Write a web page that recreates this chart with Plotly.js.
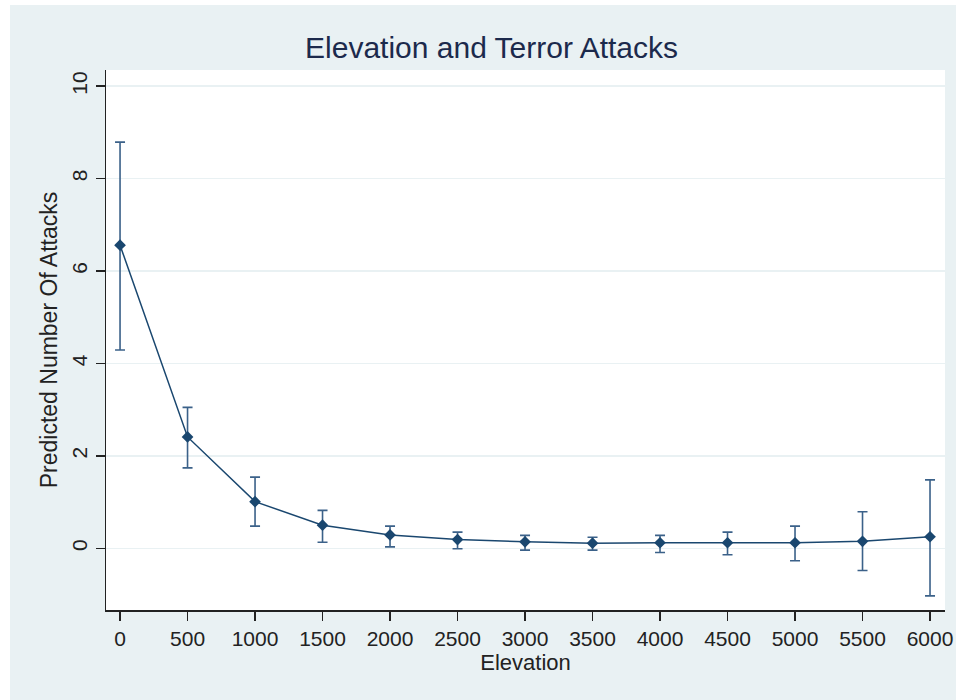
<!DOCTYPE html>
<html>
<head>
<meta charset="utf-8">
<script src="https://cdn.plot.ly/plotly-3.0.1.min.js"></script>
<style>
  html, body { margin: 0; padding: 0; background: #ffffff; }
  #chart { position: absolute; left: 10px; top: 5px; width: 946px; height: 695px; }
</style>
</head>
<body>
<div id="chart"></div>
<script>
// Elevation values (x)
const elevation = [0, 500, 1000, 1500, 2000, 2500, 3000, 3500, 4000, 4500, 5000, 5500, 6000];
// Predicted number of attacks (point estimates)
const predicted = [6.56, 2.41, 1.01, 0.50, 0.29, 0.19, 0.14, 0.11, 0.12, 0.12, 0.12, 0.15, 0.25];
// Upper and lower confidence limits
const upperCI = [8.79, 3.05, 1.54, 0.82, 0.48, 0.35, 0.28, 0.24, 0.28, 0.35, 0.48, 0.79, 1.48];
const lowerCI = [4.29, 1.74, 0.48, 0.13, 0.03, -0.01, -0.04, -0.04, -0.09, -0.14, -0.27, -0.48, -1.03];

const xTicks = [0, 500, 1000, 1500, 2000, 2500, 3000, 3500, 4000, 4500, 5000, 5500, 6000];
const yTicks = [0, 2, 4, 6, 8, 10];

const errPlus = upperCI.map((u, i) => u - predicted[i]);
const errMinus = lowerCI.map((l, i) => predicted[i] - l);

const font = "Arial, 'Liberation Sans', sans-serif";

const trace = {
  x: elevation,
  y: predicted,
  type: 'scatter',
  mode: 'lines+markers',
  line: { color: '#1a476f', width: 1.5 },
  marker: { symbol: 'diamond', size: 9, color: '#1a476f' },
  error_y: {
    type: 'data',
    symmetric: false,
    array: errPlus,
    arrayminus: errMinus,
    color: '#3b6189',
    thickness: 1.6,
    width: 5
  },
  hoverinfo: 'x+y'
};

const layout = {
  width: 946,
  height: 695,
  paper_bgcolor: '#e9f1f3',
  plot_bgcolor: '#ffffff',
  margin: { l: 96, r: 11, t: 65, b: 90 },
  showlegend: false,
  title: {
    text: 'Elevation and Terror Attacks',
    x: 0.509, xanchor: 'center',
    y: 0.939, yanchor: 'middle',
    font: { family: font, size: 30, color: '#1c2a4c' }
  },
  xaxis: {
    range: [-104, 6111],
    tickvals: xTicks,
    ticktext: xTicks.map(String),
    showgrid: false,
    zeroline: false,
    showline: true,
    linecolor: '#222222',
    linewidth: 1.5,
    ticks: 'outside',
    ticklen: 9,
    tickwidth: 1.5,
    tickcolor: '#222222',
    tickfont: { family: font, size: 21, color: '#222222' },
    title: { text: 'Elevation', font: { family: font, size: 22, color: '#222222' }, standoff: 4 }
  },
  yaxis: {
    range: [-1.335, 10.35],
    tickvals: yTicks,
    ticktext: yTicks.map(String),
    tickangle: -90,
    showgrid: true,
    gridcolor: '#e9f1f3',
    gridwidth: 1.5,
    zeroline: false,
    showline: true,
    linecolor: '#222222',
    linewidth: 1.5,
    ticks: 'outside',
    ticklen: 9,
    tickwidth: 1.5,
    tickcolor: '#222222',
    tickfont: { family: font, size: 21, color: '#222222' },
    title: { text: 'Predicted Number Of Attacks', font: { family: font, size: 23, color: '#222222' }, standoff: 4 }
  }
};

Plotly.newPlot('chart', [trace], layout, { displayModeBar: false, staticPlot: true });
</script>
</body>
</html>
